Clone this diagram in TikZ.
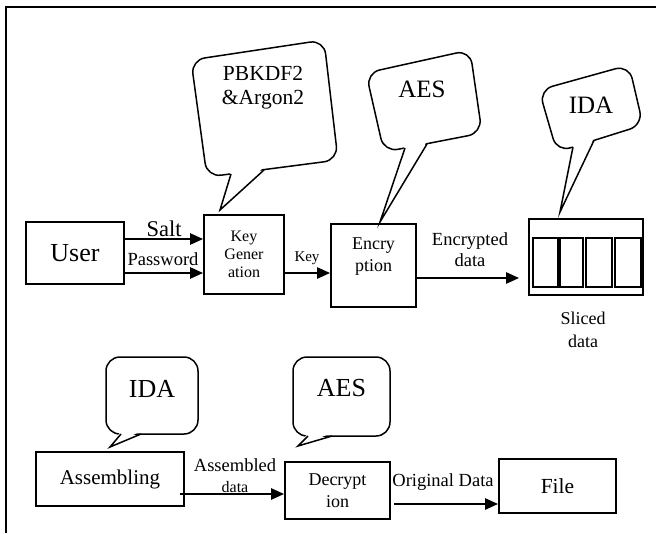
\documentclass[tikz,border=0pt]{standalone}
\usepackage{fontspec}
\setmainfont{Liberation Serif}
\usetikzlibrary{arrows.meta,calc}
\begin{document}
\begin{tikzpicture}[x=1pt,y=-1pt,
  box/.style={draw,line width=1.7pt,inner sep=0pt,align=center},
  arr/.style={line width=2.4pt,-{Triangle[length=13pt,width=11pt]}},
  bub/.style={line width=1.5pt,rounded corners=14pt},
  tailline/.style={line width=1.5pt,line join=miter},
  lbl/.style={inner sep=0pt,align=center}]
\useasboundingbox (0,0) rectangle (656,533);
% frame
\draw[line width=1.4pt] (6,533) -- (6,7) -- (656,7);

% ---- top row boxes
\node[box,minimum width=98pt,minimum height=62pt,font=\fontsize{26}{30}\selectfont] (user) at (75,253) {User};
\node[box,minimum width=80pt,minimum height=79pt,font=\fontsize{16}{18}\selectfont] (keygen) at (244,254.5) {Key\\Gener\\ation};
\node[box,minimum width=85pt,minimum height=83pt] (enc) at (373.5,265.5) {};
\node[lbl,font=\fontsize{18}{22}\selectfont] (enctext) at (373.5,257) {Encry\\ption};
\node[box,minimum width=114pt,minimum height=76pt] (sliced) at (586,257) {};
\draw[line width=1.9pt] (533,238) rectangle (558,287);
\draw[line width=1.9pt] (560,238) rectangle (583,287);
\draw[line width=1.9pt] (586,238) rectangle (612,287);
\draw[line width=1.9pt] (615,238) rectangle (641,287);
\node[lbl,font=\fontsize{18}{23}\selectfont] (slicedlbl) at (583,329.5) {Sliced\\data};

% ---- top row arrows
\coordinate (salt0) at ([yshift=14pt]user.east);
\draw[arr] (salt0) -- (salt0 -| keygen.west);
\coordinate (pw0) at ([yshift=-20pt]user.east);
\draw[arr] (pw0) -- (pw0 -| keygen.west);
\coordinate (key0) at ([yshift=-18.5pt]keygen.east);
\draw[arr] (key0) -- (key0 -| enc.west);
\coordinate (encd0) at ([yshift=-12.5pt]enc.east);
\coordinate (encd1) at ([xshift=-9pt]encd0 -| sliced.west);
\draw[arr] (encd0) -- (encd1);

\node[lbl,font=\fontsize{22.5}{26}\selectfont] (saltlbl) at (164,229) {Salt};
\node[lbl,font=\fontsize{18.5}{22}\selectfont] (pwlbl) at (163,259) {Password};
\node[lbl,font=\fontsize{15}{18}\selectfont] (keylbl) at (307,258) {Key};
\node[lbl,font=\fontsize{18.5}{21}\selectfont] (encdlbl) at (470,250) {Encrypted\\data};

% ---- callouts top
\draw[bub] (191,60) -- (324,40) -- (338,160) -- (207,177) -- cycle;
\fill[white] (231,171) -- (220,210) -- (264,167) -- cycle;
\draw[tailline] (231,174) -- (220,210) -- (264,170);
\node[lbl,font=\fontsize{21.5}{24}\selectfont] (kdf) at (263,88) {PBKDF2\\\&Argon2};

\draw[bub] (366,73) -- (470,50) -- (482,133) -- (384,152) -- cycle;
\fill[white] (405,145) -- (380,222) -- (427,141) -- cycle;
\draw[tailline] (405,148) -- (380,222) -- (427,144);
\node[lbl,font=\fontsize{25}{28}\selectfont] (aes1) at (422,89) {AES};

\draw[bub] (539,90) -- (629,65) -- (643,125) -- (557,152) -- cycle;
\fill[white] (573,144) -- (560,212) -- (594,137.5) -- cycle;
\draw[tailline] (573,147) -- (560,212) -- (594,140.4);
\node[lbl,font=\fontsize{25}{28}\selectfont] (ida1) at (591,105) {IDA};

% ---- bottom row boxes
\node[box,minimum width=148pt,minimum height=54pt,font=\fontsize{21}{25}\selectfont] (assem) at (110,479) {Assembling};
\node[box,minimum width=105pt,minimum height=57pt,font=\fontsize{18}{22}\selectfont] (dec) at (337.5,490.5) {Decrypt\\ion};
\node[box,minimum width=117pt,minimum height=54pt,font=\fontsize{21.5}{25}\selectfont] (file) at (557.5,486) {File};

\coordinate (as0) at ([xshift=-5pt,yshift=-15pt]assem.east);
\draw[arr] (as0) -- (as0 -| dec.west);
\coordinate (od0) at ([xshift=3pt,yshift=-13.5pt]dec.east);
\draw[arr] (od0) -- (od0 -| file.west);

\node[lbl,font=\fontsize{18.5}{22}\selectfont] (aslbl) at (235,465) {Assembled};
\node[lbl,font=\fontsize{16}{19}\selectfont] (aslbl2) at (235,487) {data};
\node[lbl,font=\fontsize{18.5}{22}\selectfont] (odlbl) at (443,482) {Original Data};

% ---- callouts bottom
\draw[bub] (106,357) rectangle (198,434);
\fill[white] (121,431) -- (110,447) -- (141,431) -- cycle;
\draw[tailline] (121,434) -- (110,447) -- (141,434);
\node[lbl,font=\fontsize{26}{29}\selectfont] (ida2) at (152,389) {IDA};

\draw[bub] (293,357) rectangle (390,436);
\fill[white] (308,433) -- (298,446) -- (332,433) -- cycle;
\draw[tailline] (308,436) -- (298,446) -- (332,436);
\node[lbl,font=\fontsize{26}{29}\selectfont] (aes2) at (341.5,388) {AES};
\end{tikzpicture}
\end{document}
